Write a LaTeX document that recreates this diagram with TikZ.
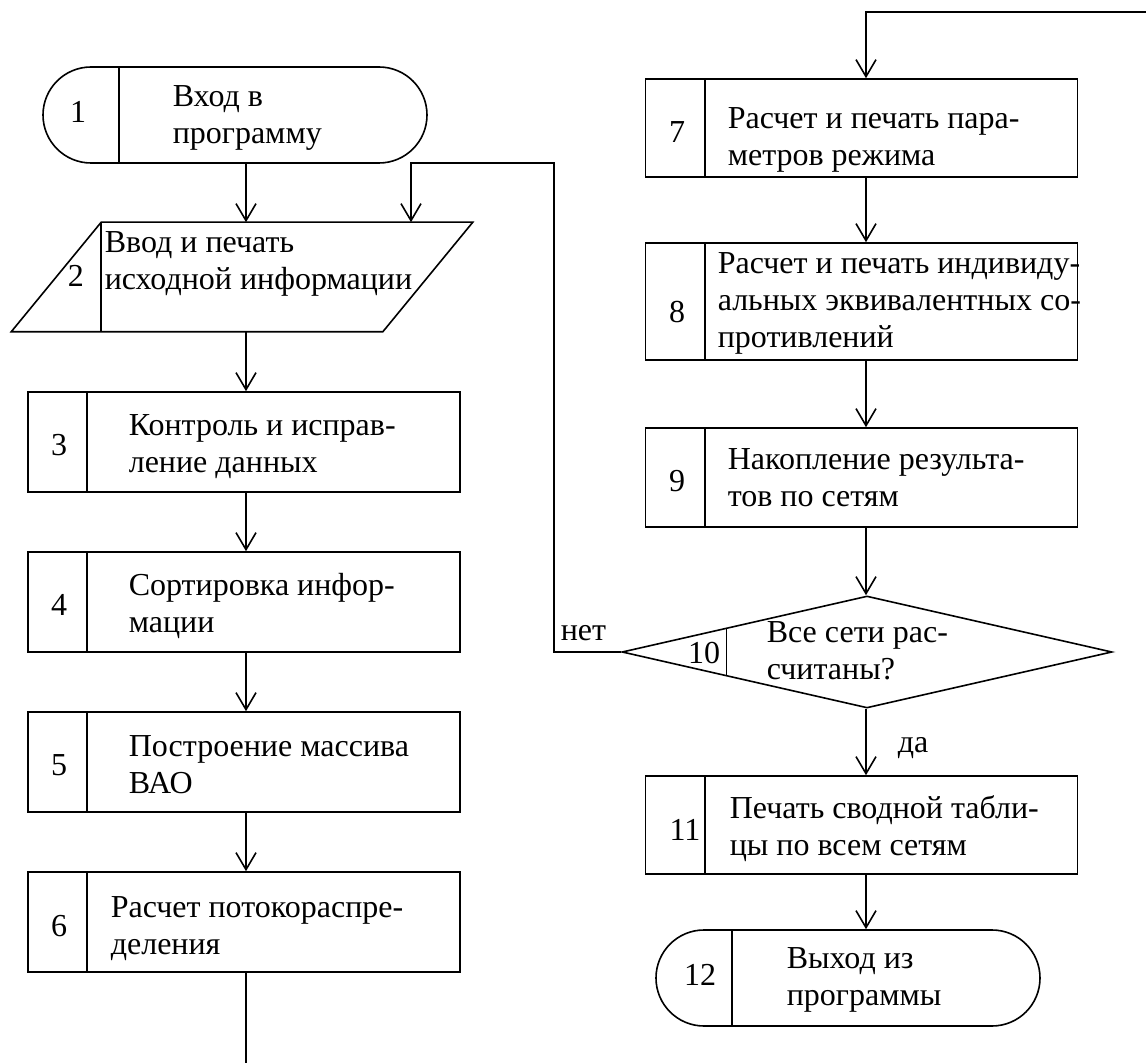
\documentclass[tikz,border=0pt]{standalone}
\usepackage{fontspec}
\setmainfont{Liberation Serif}
\usetikzlibrary{arrows.meta,shapes.geometric,calc}
\newcommand{\mlines}[1]{\begin{tabular}[t]{@{}l@{}}#1\end{tabular}}
\begin{document}
\begin{tikzpicture}[x=0.5pt,y=-0.5pt,
  line width=0.8pt,
  font=\fontsize{16}{18.5}\selectfont,
  blk/.style={draw, rectangle, inner sep=0pt, minimum width=216pt, minimum height=50pt},
  term/.style={draw, rectangle, rounded corners=24pt, inner sep=0pt, minimum width=192pt, minimum height=48pt},
  lbl/.style={inner sep=0pt, anchor=base west},
  num/.style={inner sep=0pt, anchor=base},
  arr/.style={-{Straight Barb[length=8.5pt,width=10pt]}},
]
\useasboundingbox (0,0) rectangle (1146,1063);

% helper coordinates for connector columns
\coordinate (lx) at (246,0);
\coordinate (rx) at (866,0);
\coordinate (px) at (411,0);
\coordinate (lp) at (554,163);
\coordinate (topr) at (1146,12);
\coordinate (bot) at (246,1063);

% ---- left column ----
\node[term] (t1) at (235,115) {};
\draw (t1.north west) ++(77,0) coordinate (t1a) (t1.south west) ++(77,0) coordinate (t1b);
\draw (t1a) -- (t1b);
\node[num] (n1) at (78,123) {1};
\node[lbl] (l1) at (172,107) {\mlines{Вход в\\программу}};

\node[inner sep=0pt, minimum width=230pt, minimum height=54pt] (p2) at (242,277) {};
\draw (p2.south west) -- ($(p2.north west)+(90,0)$) -- (p2.north east) -- ($(p2.south east)+(-90,0)$) -- cycle;
\draw ($(p2.north west)+(90,0)$) -- ($(p2.south west)+(90,0)$);
\node[num] (n2) at (76,287) {2};
\node[lbl] (l2) at (104,253) {\mlines{Ввод и печать\\исходной информации}};

\node[blk] (b3) at (244,442) {};
\draw ($(b3.north west)+(60,0)$) -- ($(b3.south west)+(60,0)$);
\node[num] (n3) at (59,456) {3};
\node[lbl] (l3) at (128,436) {\mlines{Контроль и исправ-\\ление данных}};

\node[blk] (b4) at (244,602) {};
\draw ($(b4.north west)+(60,0)$) -- ($(b4.south west)+(60,0)$);
\node[num] (n4) at (59,616) {4};
\node[lbl] (l4) at (128,596) {\mlines{Сортировка инфор-\\мации}};

\node[blk] (b5) at (244,762) {};
\draw ($(b5.north west)+(60,0)$) -- ($(b5.south west)+(60,0)$);
\node[num] (n5) at (59,775) {5};
\node[lbl] (l5) at (128,756) {\mlines{Построение массива\\ВАО}};

\node[blk] (b6) at (244,922) {};
\draw ($(b6.north west)+(60,0)$) -- ($(b6.south west)+(60,0)$);
\node[num] (n6) at (59,936) {6};
\node[lbl] (l6) at (110,917) {\mlines{Расчет потокораспре-\\деления}};

\draw[arr] (t1.south -| lx) -- (p2.north -| lx);
\draw[arr] (p2.south -| lx) -- (b3.north -| lx);
\draw[arr] (b3.south -| lx) -- (b4.north -| lx);
\draw[arr] (b4.south -| lx) -- (b5.north -| lx);
\draw[arr] (b5.south -| lx) -- (b6.north -| lx);
\draw (b6.south -| lx) -- (bot);

% ---- right column ----
\node[blk, minimum height=49pt] (b7) at (861.5,128) {};
\draw ($(b7.north west)+(60,0)$) -- ($(b7.south west)+(60,0)$);
\node[num] (n7) at (677,143) {7};
\node[lbl] (l7) at (727,129) {\mlines{Расчет и печать пара-\\метров режима}};

\node[blk, minimum height=58.5pt] (b8) at (861.5,301.5) {};
\draw ($(b8.north west)+(60,0)$) -- ($(b8.south west)+(60,0)$);
\node[num] (n8) at (677,323) {8};
\node[lbl] (l8) at (717,274) {\mlines{Расчет и печать индивиду-\\альных эквивалентных со-\\противлений}};

\node[blk, minimum height=49.5pt] (b9) at (861.5,477.5) {};
\draw ($(b9.north west)+(60,0)$) -- ($(b9.south west)+(60,0)$);
\node[num] (n9) at (677,492) {9};
\node[lbl] (l9) at (727,470) {\mlines{Накопление результа-\\тов по сетям}};

\node[draw, diamond, inner sep=0pt, minimum width=245pt, minimum height=56pt] (d10) at (867,652) {};
\draw ($(d10.west)!0.4286!(d10.north)$) -- ($(d10.west)!0.4286!(d10.south)$);
\node[num] (n10) at (704,663) {10};
\node[lbl] (l10) at (766,643) {\mlines{Все сети рас-\\считаны?}};
\node[lbl] (no) at (560,640) {нет};
\node[lbl] (yes) at (897,752) {да};

\node[blk, minimum height=49pt] (b11) at (861.5,825) {};
\draw ($(b11.north west)+(60,0)$) -- ($(b11.south west)+(60,0)$);
\node[num] (n11) at (685,840) {11};
\node[lbl] (l11) at (729,818) {\mlines{Печать сводной табли-\\цы по всем сетям}};

\node[term] (t12) at (848,978) {};
\draw ($(t12.north west)+(77,0)$) -- ($(t12.south west)+(77,0)$);
\node[num] (n12) at (700,985) {12};
\node[lbl] (l12) at (786,968) {\mlines{Выход из\\программы}};

\draw[arr] (topr) -| (b7.north -| rx);
\draw[arr] (b7.south -| rx) -- (b8.north -| rx);
\draw[arr] (b8.south -| rx) -- (b9.north -| rx);
\draw[arr] (b9.south -| rx) -- (d10.north -| rx);
\draw[arr] (d10.south -| rx) -- (b11.north -| rx);
\draw[arr] (b11.south -| rx) -- (t12.north -| rx);
\draw[arr] (d10.west) -| (lp) -| (p2.north -| px);
\end{tikzpicture}
\end{document}
